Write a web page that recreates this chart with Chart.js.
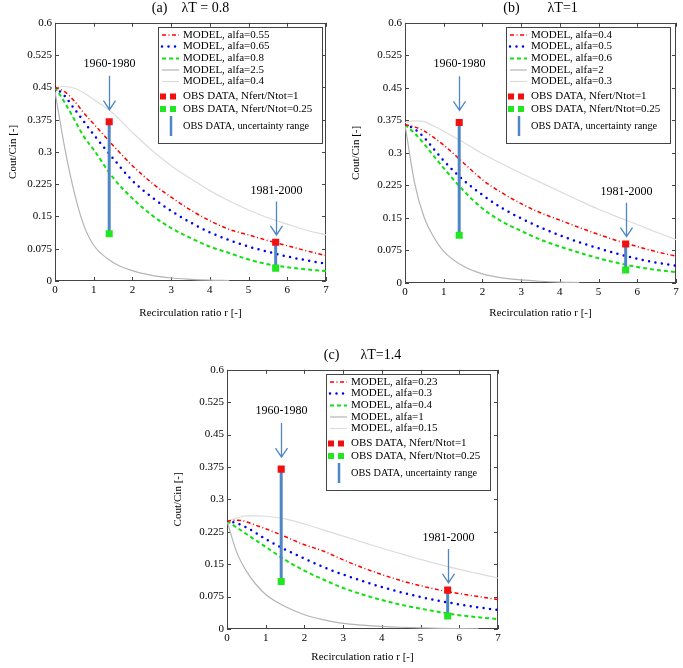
<!DOCTYPE html>
<html>
<head>
<meta charset="utf-8">
<script src="https://cdn.jsdelivr.net/npm/chart.js@4.4.1/dist/chart.umd.min.js"></script>
<style>
  body { margin: 0; background: #fff; width: 683px; height: 668px; position: relative; overflow: hidden; }
  .panel { position: absolute; }
</style>
</head>
<body>
<div class="panel" style="left:0px;top:0px;width:345px;height:320px"><canvas id="chart_a"></canvas></div>
<div class="panel" style="left:345px;top:0px;width:338px;height:320px"><canvas id="chart_b"></canvas></div>
<div class="panel" style="left:160px;top:347px;width:360px;height:321px"><canvas id="chart_c"></canvas></div>
<script>
// recirculation ratio grid shared by all model curves
const r_grid = [0, 0.25, 0.5, 0.75, 1, 1.5, 2, 2.5, 3, 3.5, 4, 4.5, 5, 5.5, 6, 6.5, 7];

// (a) lambdaT = 0.8
const a_alfa  = ["0.55", "0.65", "0.8", "2.5", "0.4"];
const a_red   = [0.45, 0.44, 0.418, 0.39, 0.365, 0.315, 0.268, 0.228, 0.195, 0.165, 0.14, 0.12, 0.107, 0.094, 0.082, 0.07, 0.059];
const a_blue  = [0.45, 0.43, 0.40, 0.37, 0.34, 0.285, 0.233, 0.195, 0.163, 0.136, 0.113, 0.095, 0.08, 0.068, 0.057, 0.048, 0.04];
const a_green = [0.45, 0.415, 0.375, 0.335, 0.305, 0.24, 0.192, 0.153, 0.123, 0.1, 0.08, 0.065, 0.05, 0.039, 0.032, 0.027, 0.023];
const a_gray  = [0.44, 0.31, 0.205, 0.128, 0.083, 0.043, 0.024, 0.013, 0.007, 0.004, 0.002, 0.001, null, null, null, null, null];
const a_light = [0.45, 0.452, 0.448, 0.437, 0.422, 0.39, 0.345, 0.304, 0.268, 0.238, 0.21, 0.186, 0.165, 0.147, 0.132, 0.118, 0.107];

// (b) lambdaT = 1
const b_alfa  = ["0.4", "0.5", "0.6", "2", "0.3"];
const b_red   = [0.365, 0.36, 0.35, 0.335, 0.318, 0.278, 0.238, 0.208, 0.183, 0.162, 0.145, 0.128, 0.112, 0.097, 0.084, 0.072, 0.062];
const b_blue  = [0.365, 0.355, 0.335, 0.308, 0.282, 0.238, 0.203, 0.173, 0.149, 0.128, 0.11, 0.094, 0.08, 0.067, 0.056, 0.047, 0.04];
const b_green = [0.365, 0.345, 0.32, 0.292, 0.265, 0.214, 0.172, 0.142, 0.12, 0.1, 0.084, 0.07, 0.057, 0.046, 0.037, 0.03, 0.025];
const b_gray  = [0.365, 0.23, 0.15, 0.105, 0.073, 0.039, 0.021, 0.012, 0.007, 0.004, 0.002, 0.001, null, null, null, null, null];
const b_light = [0.37, 0.374, 0.372, 0.362, 0.35, 0.325, 0.298, 0.275, 0.253, 0.232, 0.211, 0.19, 0.17, 0.152, 0.135, 0.117, 0.1];

// (c) lambdaT = 1.4
const c_alfa  = ["0.23", "0.3", "0.4", "1", "0.15"];
const c_red   = [0.25, 0.252, 0.248, 0.24, 0.232, 0.214, 0.195, 0.18, 0.16, 0.142, 0.126, 0.112, 0.1, 0.09, 0.082, 0.075, 0.068];
const c_blue  = [0.25, 0.245, 0.235, 0.222, 0.208, 0.184, 0.163, 0.143, 0.126, 0.111, 0.097, 0.085, 0.074, 0.065, 0.057, 0.05, 0.044];
const c_green = [0.25, 0.235, 0.22, 0.205, 0.19, 0.16, 0.135, 0.114, 0.095, 0.08, 0.067, 0.056, 0.047, 0.039, 0.032, 0.027, 0.023];
const c_gray  = [0.25, 0.178, 0.134, 0.103, 0.08, 0.052, 0.033, 0.021, 0.013, 0.009, 0.006, 0.004, 0.0025, 0.0015, 0.001, 0.0005, null];
const c_light = [0.25, 0.257, 0.262, 0.262, 0.261, 0.255, 0.243, 0.229, 0.215, 0.201, 0.187, 0.174, 0.161, 0.149, 0.138, 0.128, 0.118];

// observed data (same in every panel)
const obs_r         = [1.4, 5.7];
const obs_fert_1    = [0.37, 0.09];
const obs_fert_025  = [0.11, 0.03];
const period_labels = ["1960-1980", "1981-2000"];
const period_text_y = [0.505, 0.21];
const arrow_from_y  = [0.477, 0.185];
const arrow_to_y    = [0.398, 0.107];

const x_ticks = [0, 1, 2, 3, 4, 5, 6, 7];
const y_ticks = [0, 0.075, 0.15, 0.225, 0.3, 0.375, 0.45, 0.525, 0.6];

Chart.defaults.font.family = "'Liberation Serif', 'Times New Roman', serif";
Chart.defaults.color = "#000";

const BAR_BLUE = "#4f86c6";

function pts(xs, ys) {
    return xs.map((x, i) => ({ x: x, y: ys[i] }));
}

// box + inward tick marks on all four sides
const framePlugin = {
    id: "frame",
    beforeDatasetsDraw(chart) {
        const { ctx, chartArea: a, scales } = chart;
        ctx.save();
        ctx.strokeStyle = "#444";
        ctx.lineWidth = 1;
        ctx.strokeRect(Math.round(a.left) + 0.5, Math.round(a.top) + 0.5, Math.round(a.width) - 1, Math.round(a.height) - 1);
        ctx.beginPath();
        scales.x.ticks.forEach(t => {
            const px = Math.round(scales.x.getPixelForValue(t.value)) + 0.5;
            ctx.moveTo(px, a.bottom); ctx.lineTo(px, a.bottom - 4);
            ctx.moveTo(px, a.top); ctx.lineTo(px, a.top + 4);
        });
        scales.y.ticks.forEach(t => {
            const py = Math.round(scales.y.getPixelForValue(t.value)) + 0.5;
            ctx.moveTo(a.left, py); ctx.lineTo(a.left + 4, py);
            ctx.moveTo(a.right, py); ctx.lineTo(a.right - 4, py);
        });
        ctx.stroke();
        ctx.restore();
    }
};

// period labels with open arrows pointing down at the observations
const periodPlugin = {
    id: "periods",
    afterDatasetsDraw(chart) {
        const { ctx, scales: { x, y } } = chart;
        ctx.save();
        ctx.font = "12px 'Liberation Serif'";
        ctx.textAlign = "center";
        ctx.textBaseline = "middle";
        obs_r.forEach((r, i) => {
            const px = Math.round(x.getPixelForValue(r)) + 0.5;
            ctx.fillStyle = "#000";
            ctx.fillText(period_labels[i], px, y.getPixelForValue(period_text_y[i]));
            const y0 = y.getPixelForValue(arrow_from_y[i]);
            const y1 = y.getPixelForValue(arrow_to_y[i]);
            ctx.strokeStyle = BAR_BLUE;
            ctx.lineWidth = 1.3;
            ctx.beginPath();
            ctx.moveTo(px, y0); ctx.lineTo(px, y1);
            ctx.moveTo(px - 6, y1 - 9); ctx.lineTo(px, y1); ctx.lineTo(px + 6, y1 - 9);
            ctx.stroke();
        });
        ctx.restore();
    }
};

// boxed legend inside the top-right corner of the plot
const boxLegendPlugin = {
    id: "boxLegend",
    afterDraw(chart) {
        const { ctx, chartArea: a } = chart;
        const sets = chart.data.datasets;
        const rows = [8, 19.5, 31.5, 43, 54.5, 69.5, 82, 99];
        ctx.save();
        ctx.font = "11px 'Liberation Serif'";
        let w = 0;
        sets.forEach(ds => { w = Math.max(w, ctx.measureText(ds.label).width); });
        const bw = Math.round(w + 29), bh = 116;
        const left = Math.round(a.right - chart.options.plugins.boxLegend.inset - bw);
        const top = Math.round(a.top + 4);
        ctx.fillStyle = "#fff";
        ctx.fillRect(left, top, bw, bh);
        ctx.strokeStyle = "#444";
        ctx.lineWidth = 1;
        ctx.strokeRect(left + 0.5, top + 0.5, bw, bh);
        ctx.textBaseline = "middle";
        sets.forEach((ds, i) => {
            const yy = top + rows[i];
            if (ds.legendKind === "line") {
                ctx.save();
                ctx.strokeStyle = ds.borderColor;
                ctx.lineWidth = ds.borderWidth;
                ctx.lineCap = ds.borderCapStyle || "butt";
                ctx.setLineDash(ds.borderDash || []);
                ctx.beginPath();
                ctx.moveTo(left + 4, yy); ctx.lineTo(left + 21, yy);
                ctx.stroke();
                ctx.restore();
            } else if (ds.legendKind === "square") {
                ctx.fillStyle = ds.pointBackgroundColor;
                ctx.fillRect(left + 2, yy - 3, 6, 6);
                ctx.fillRect(left + 12, yy - 3, 6, 6);
            } else if (ds.legendKind === "bar") {
                ctx.strokeStyle = ds.borderColor;
                ctx.lineWidth = 2.5;
                ctx.beginPath();
                ctx.moveTo(left + 13, yy - 10); ctx.lineTo(left + 13, yy + 10);
                ctx.stroke();
            }
            ctx.fillStyle = "#000";
            ctx.font = ds.legendKind === "bar" ? "10.3px 'Liberation Serif'" : "11px 'Liberation Serif'";
            ctx.fillText(ds.label, left + 25, yy);
        });
        ctx.restore();
    }
};

function makePanel(canvasId, title, alfa, curves, layout) {
    const datasets = [
        { label: "MODEL, alfa=" + alfa[0], data: pts(r_grid, curves[0]), borderColor: "#ff0000", borderWidth: 1.5,
          borderDash: [4, 2.5, 1, 2.5], legendKind: "line", order: 3 },
        { label: "MODEL, alfa=" + alfa[1], data: pts(r_grid, curves[1]), borderColor: "#0000f0", borderWidth: 2.5,
          borderDash: [0, 6.5], borderCapStyle: "round", legendKind: "line", order: 3 },
        { label: "MODEL, alfa=" + alfa[2], data: pts(r_grid, curves[2]), borderColor: "#11e011", borderWidth: 2,
          borderDash: [4, 3], legendKind: "line", order: 3 },
        { label: "MODEL, alfa=" + alfa[3], data: pts(r_grid, curves[3]), borderColor: "#b4b4b4", borderWidth: 1.2,
          legendKind: "line", order: 4 },
        { label: "MODEL, alfa=" + alfa[4], data: pts(r_grid, curves[4]), borderColor: "#dcdcdc", borderWidth: 1.2,
          legendKind: "line", order: 4 },
        { label: "OBS DATA, Nfert/Ntot=1", data: pts(obs_r, obs_fert_1), showLine: false, pointStyle: "rect",
          pointRadius: 5, pointBackgroundColor: "#f01010", pointBorderColor: "#f01010", pointBorderWidth: 0,
          legendKind: "square", order: 0 },
        { label: "OBS DATA, Nfert/Ntot=0.25", data: pts(obs_r, obs_fert_025), showLine: false, pointStyle: "rect",
          pointRadius: 5, pointBackgroundColor: "#22e622", pointBorderColor: "#22e622", pointBorderWidth: 0,
          legendKind: "square", order: 0 },
        { label: "OBS DATA, uncertainty range",
          data: [{ x: obs_r[0], y: obs_fert_025[0] }, { x: obs_r[0], y: obs_fert_1[0] }, { x: 3.5, y: null },
                 { x: obs_r[1], y: obs_fert_025[1] }, { x: obs_r[1], y: obs_fert_1[1] }],
          borderColor: BAR_BLUE, borderWidth: 3, spanGaps: false, legendKind: "bar", order: 1 }
    ];
    datasets.forEach(ds => {
        if (ds.pointRadius === undefined) ds.pointRadius = 0;
        ds.fill = false;
        if (ds.legendKind === "line") ds.cubicInterpolationMode = "monotone";
    });

    const config = {
        type: "line",
        data: { datasets: datasets },
        plugins: [framePlugin, periodPlugin, boxLegendPlugin],
        options: {
            responsive: true,
            maintainAspectRatio: false,
            animation: false,
            events: [],
            layout: { padding: { left: 0, right: layout.padRight, top: 0, bottom: 0 } },
            plugins: {
                legend: { display: false },
                tooltip: { enabled: false },
                boxLegend: { inset: layout.legendInset },
                title: {
                    display: true, text: title, fullSize: false, color: "#000",
                    font: { size: 14, weight: "normal" }, padding: { top: 0, bottom: 6 }
                }
            },
            scales: {
                x: {
                    type: "linear", min: 0, max: 7,
                    afterBuildTicks: s => { s.ticks = x_ticks.map(v => ({ value: v })); },
                    afterFit: s => { s.height = layout.xAxisH; },
                    grid: { display: false, drawTicks: false }, border: { display: false },
                    ticks: { font: { size: 11 }, padding: 3, maxRotation: 0, color: "#000" },
                    title: { display: true, text: "Recirculation ratio r [-]", font: { size: 11 },
                             padding: { top: 0, bottom: layout.xTitlePad } }
                },
                y: {
                    type: "linear", min: 0, max: 0.6,
                    afterBuildTicks: s => { s.ticks = y_ticks.map(v => ({ value: v })); },
                    afterFit: s => { s.width = layout.yAxisW; },
                    grid: { display: false, drawTicks: false }, border: { display: false },
                    ticks: { font: { size: 11 }, padding: 3, color: "#000",
                             callback: v => String(parseFloat(Number(v).toFixed(3))) },
                    title: { display: true, text: "Cout/Cin [-]", font: { size: 11 },
                             padding: { top: layout.yTitlePad, bottom: 0 } }
                }
            }
        }
    };
    return new Chart(document.getElementById(canvasId).getContext("2d"), config);
}

const chart_a = makePanel("chart_a", "(a)    \u03bbT = 0.8", a_alfa, [a_red, a_blue, a_green, a_gray, a_light],
    { padRight: 19, yAxisW: 55, xAxisH: 39, yTitlePad: 6.4, xTitlePad: 0.4, legendInset: 4 });
const chart_b = makePanel("chart_b", "(b)        \u03bbT=1", b_alfa, [b_red, b_blue, b_green, b_gray, b_light],
    { padRight: 7, yAxisW: 60, xAxisH: 37, yTitlePad: 4.4, xTitlePad: 0, legendInset: 6 });
const chart_c = makePanel("chart_c", "(c)      \u03bbT=1.4", c_alfa, [c_red, c_blue, c_green, c_gray, c_light],
    { padRight: 22, yAxisW: 67, xAxisH: 39, yTitlePad: 11.4, xTitlePad: 4.4, legendInset: 8 });
</script>
</body>
</html>
